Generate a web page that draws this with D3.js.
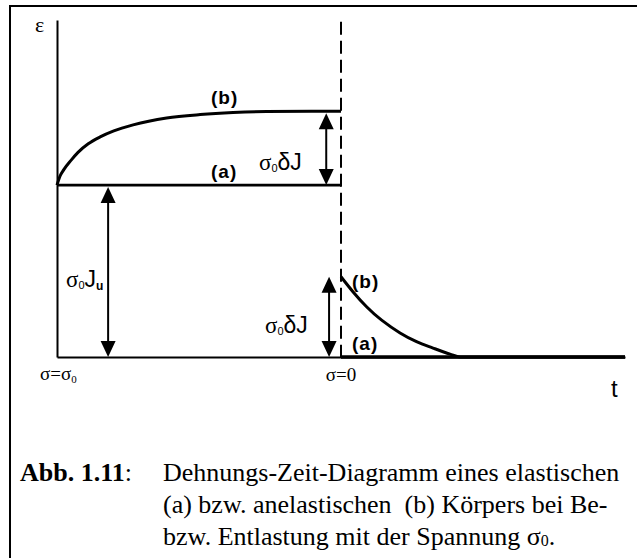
<!DOCTYPE html>
<html>
<head>
<meta charset="utf-8">
<script src="https://cdn.jsdelivr.net/npm/d3@7"></script>
<style>
  html, body { margin: 0; padding: 0; background: #fff; }
  svg { display: block; }
  text { white-space: pre; }
</style>
</head>
<body>
<script>
// Creep (loading, sigma = sigma0) and recovery (unloading, sigma = 0)
// strain values in units of sigma0*Ju; time in arbitrary units.
const loadTime    = [0, 0.5, 1.2, 2.5, 3.7, 5.5, 7.6, 10, 13.4, 19.3, 25.2, 31, 36.9, 50];
const loadStrainB = [1.0, 1.05, 1.09, 1.145, 1.19, 1.24, 1.28, 1.315, 1.35, 1.39, 1.41, 1.422, 1.428, 1.43];
const unloadTime    = [50, 52.1, 54.5, 60.4, 63.3, 66.2, 69.2, 71, 100];
const unloadStrainB = [0.467, 0.38, 0.292, 0.14, 0.089, 0.052, 0.017, 0, 0];
const elasticTime   = [0, 50, 100];
const elasticStrain = [1.0, 1.0, 0];   // (a): Ju while loaded, 0 after unloading
const switchTime = 50;
const stressLabels = ["σ=σ", "σ=0"];
const captionLines = [
  "Dehnungs-Zeit-Diagramm eines elastischen",
  "(a) bzw. anelastischen  (b) Körpers bei Be-",
  "bzw. Entlastung mit der Spannung σ"
];

const W = 637, H = 558;
const svg = d3.select("body").append("svg").attr("width", W).attr("height", H);
svg.append("rect").attr("width", W).attr("height", H).attr("fill", "#fff");

// frame (open to the right and bottom)
svg.append("path")
  .attr("d", "M10,558V6H637")
  .attr("fill", "none").attr("stroke", "#000").attr("stroke-width", 2);

const x = d3.scaleLinear().domain([0, 100]).range([57, 625]);
const y = d3.scaleLinear().domain([0, 1.96]).range([357, 20]);

// axes
const yAxis = svg.append("g").attr("transform", `translate(${x(0)},0)`)
  .call(d3.axisLeft(y).tickValues([]).tickSizeOuter(0));
const xAxis = svg.append("g").attr("transform", `translate(0,${y(0)})`)
  .call(d3.axisBottom(x).tickValues([]).tickSizeOuter(0));
[yAxis, xAxis].forEach(g => g.select(".domain").attr("stroke", "#000").attr("stroke-width", 2));

// dashed line at the moment of unloading
svg.append("line")
  .attr("x1", x(switchTime)).attr("x2", x(switchTime))
  .attr("y1", y(1.95)).attr("y2", y(0))
  .attr("stroke", "#000").attr("stroke-width", 2)
  .attr("stroke-dasharray", "13,6");

const line = d3.line().x(d => x(d[0])).y(d => y(d[1]));
const curve = d3.line().x(d => x(d[0])).y(d => y(d[1])).curve(d3.curveMonotoneX);

// (a) elastic: plateau while loaded, then zero after unloading
svg.append("path")
  .datum([[elasticTime[0], elasticStrain[0]], [elasticTime[1], elasticStrain[1]]])
  .attr("d", line).attr("fill", "none").attr("stroke", "#000").attr("stroke-width", 2.8);
svg.append("path")
  .datum([[elasticTime[1], elasticStrain[2]], [elasticTime[2], elasticStrain[2]]])
  .attr("d", line).attr("fill", "none").attr("stroke", "#000").attr("stroke-width", 3.5);

// (b) anelastic creep and recovery
svg.append("path")
  .datum(loadTime.map((t, i) => [t, loadStrainB[i]]))
  .attr("d", curve).attr("fill", "none").attr("stroke", "#000").attr("stroke-width", 3);
svg.append("path")
  .datum(unloadTime.map((t, i) => [t, unloadStrainB[i]]))
  .attr("d", curve).attr("fill", "none").attr("stroke", "#000").attr("stroke-width", 3);

// double-headed arrows
function arrow(px, yTop, yBot) {
  const hw = 7.5, hl = 16;
  const g = svg.append("g");
  g.append("line").attr("x1", px).attr("x2", px)
    .attr("y1", yTop + hl - 2).attr("y2", yBot - hl + 2)
    .attr("stroke", "#000").attr("stroke-width", 2);
  g.append("path").attr("d", `M${px},${yTop}L${px - hw},${yTop + hl}L${px + hw},${yTop + hl}Z`);
  g.append("path").attr("d", `M${px},${yBot}L${px - hw},${yBot - hl}L${px + hw},${yBot - hl}Z`);
}
const plateauB = loadStrainB[loadStrainB.length - 1];
arrow(x(47.4), y(plateauB) + 2, y(elasticStrain[0]));
arrow(x(9), y(elasticStrain[0]) + 2, y(0));
arrow(x(47.9), y(unloadStrainB[0]), y(0));

// labels
const sans = "'Liberation Sans', Arial, sans-serif";
const serif = "'Liberation Serif', 'Times New Roman', serif";

function curveLabel(txt, px, py) {
  svg.append("text").attr("x", px).attr("y", py)
    .attr("font-family", sans).attr("font-weight", "bold").attr("font-size", 19)
    .attr("letter-spacing", 1).text(txt);
}
curveLabel("(b)", 211, 104);
curveLabel("(a)", 211, 178);
curveLabel("(b)", 352, 288);
curveLabel("(a)", 352, 350);

function sigmaLabel(px, py, mid, sub2) {
  const t = svg.append("text").attr("x", px).attr("y", py)
    .attr("font-family", sans).attr("font-size", 23);
  t.append("tspan").attr("font-family", serif).text("σ");
  t.append("tspan").attr("font-size", 11).attr("dy", 2).text("0");
  t.append("tspan").attr("dy", -2).text(mid);
  if (sub2) t.append("tspan").attr("font-size", 12).attr("font-weight", "bold").attr("dy", 3).text(sub2);
}
sigmaLabel(259, 170, "δJ");
sigmaLabel(66, 287, "J", "u");
sigmaLabel(265, 333, "δJ");

// stress state labels below the time axis
const s0 = svg.append("text").attr("x", 40).attr("y", 380)
  .attr("font-family", serif).attr("font-size", 19);
s0.append("tspan").text(stressLabels[0]);
s0.append("tspan").attr("font-size", 11).attr("dy", 3).text("0");
svg.append("text").attr("x", x(switchTime)).attr("y", 381)
  .attr("text-anchor", "middle").attr("font-family", serif).attr("font-size", 19)
  .text(stressLabels[1]);

// axis titles
svg.append("text").attr("x", 35).attr("y", 32)
  .attr("font-family", serif).attr("font-size", 22).text("ε");
svg.append("text").attr("x", 611).attr("y", 397)
  .attr("font-family", sans).attr("font-size", 24).text("t");

// caption
const cap = svg.append("g").attr("font-family", serif).attr("font-size", 26).attr("fill", "#000");
const c0 = cap.append("text").attr("x", 20).attr("y", 481);
c0.append("tspan").attr("font-weight", "bold").text("Abb. 1.11");
c0.append("tspan").text(":");
captionLines.forEach((s, i) => {
  const t = cap.append("text").attr("x", 163).attr("y", 481 + i * 32).text(s);
  if (i === 2) {
    t.append("tspan").attr("font-size", 16).attr("dy", 1).text("0");
    t.append("tspan").attr("dy", -1).text(".");
  }
});
</script>
</body>
</html>
